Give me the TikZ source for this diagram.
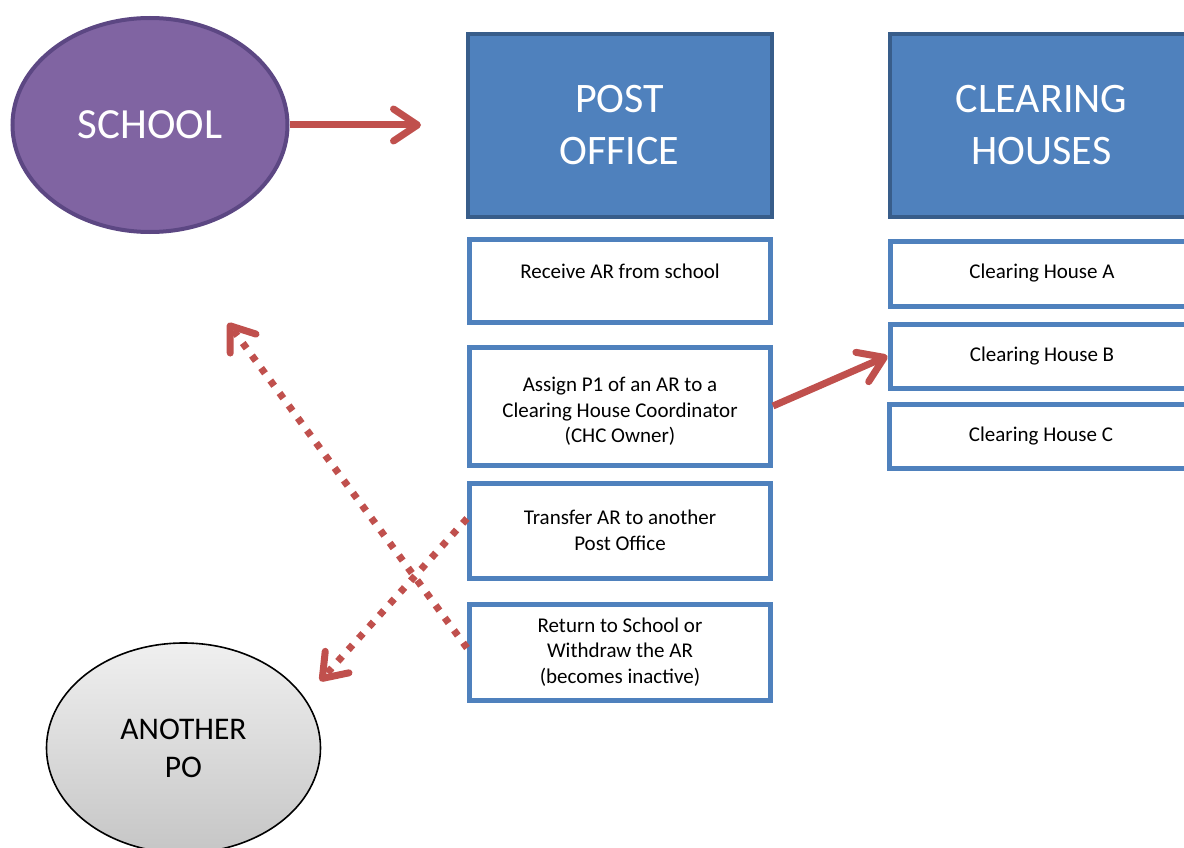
\documentclass[tikz,border=0pt]{standalone}
\usepackage{fontspec}
\setmainfont{Carlito}
\usetikzlibrary{arrows.meta,shapes.geometric}
\definecolor{schoolfill}{HTML}{8064A2}
\definecolor{schoolline}{HTML}{5C4783}
\definecolor{hdrfill}{HTML}{4F81BD}
\definecolor{hdrline}{HTML}{385D8A}
\definecolor{boxline}{HTML}{4F81BD}
\definecolor{arrowred}{HTML}{C0504D}
\tikzset{
  hdrbox/.style={draw=hdrline, fill=hdrfill, line width=4pt, minimum width=304pt, minimum height=182pt, inner sep=0pt, text=white, align=center, font=\fontsize{42}{52}\selectfont},
  stepbox/.style={draw=boxline, fill=white, line width=5pt, minimum width=301pt, inner sep=0pt, align=center, font=\fontsize{21}{25.5}\selectfont},
  chbox/.style={draw=boxline, fill=white, line width=5pt, minimum width=304pt, inner sep=0pt, align=center, font=\fontsize{21}{25.5}\selectfont},
  solidarrow/.style={draw=arrowred, line width=7pt, -{Straight Barb[length=24pt, width=32pt, line width=7pt, round]}},
  dotarrow/.style={draw=arrowred, line width=7pt, dash pattern=on 6.5pt off 9pt, -{Straight Barb[length=22pt, width=32pt, line width=7pt, round]}}
}
\begin{document}
\begin{tikzpicture}[x=1pt, y=-1pt]
\useasboundingbox (0,0) rectangle (1184,848);
\clip (0,0) rectangle (1184,848);
% school
\node[ellipse, draw=schoolline, fill=schoolfill, line width=4pt, minimum width=275pt, minimum height=214pt, inner sep=0pt, text=white, font=\fontsize{43}{52}\selectfont] (school) at (150,125) {SCHOOL};
% another PO
\node[ellipse, draw=black, line width=1.6pt, top color=gray!12, bottom color=gray!45, minimum width=274pt, minimum height=210pt, inner sep=0pt, align=center, font=\fontsize{31.5}{38}\selectfont] (another) at (183.5,748) {ANOTHER\\PO};
% headers
\node[hdrbox] (po) at (619.5,125.5) {POST\\OFFICE};
\node[hdrbox] (ch) at (1041.5,125.5) {CLEARING\\HOUSES};
% post office steps
\node[stepbox, minimum height=83pt] (receive) at (620,280.5) {Receive AR from school\rule[-19.5pt]{0pt}{19.5pt}};
\node[stepbox, minimum height=118pt] (assign) at (620,406) {\rule{0pt}{25.5pt}Assign P1 of an AR to a\\Clearing House Coordinator\\(CHC Owner)};
\node[stepbox, minimum height=95pt] (transfer) at (620,530.5) {Transfer AR to another\\Post Office};
\node[stepbox, minimum height=96pt] (return) at (620,652) {Return to School or\\Withdraw the AR\\(becomes inactive)};
% clearing houses
\node[chbox, minimum height=65pt] (cha) at (1042,273.5) {Clearing House A};
\node[chbox, minimum height=64pt] (chb) at (1042,356) {Clearing House B};
\node[chbox, minimum height=64pt] (chc) at (1041,436) {Clearing House C};
% connectors
\coordinate (poin) at (421,125);
\coordinate (toschool) at (228,323);
\coordinate (toanother) at (320,681);
\draw[solidarrow] (school.east) -- (poin);
\draw[solidarrow] (assign.east) -- (chb.west);
\draw[dotarrow] ([yshift=4pt]return.west) -- (toschool);
\draw[dotarrow] ([yshift=12pt]transfer.west) -- (toanother);
\end{tikzpicture}
\end{document}
